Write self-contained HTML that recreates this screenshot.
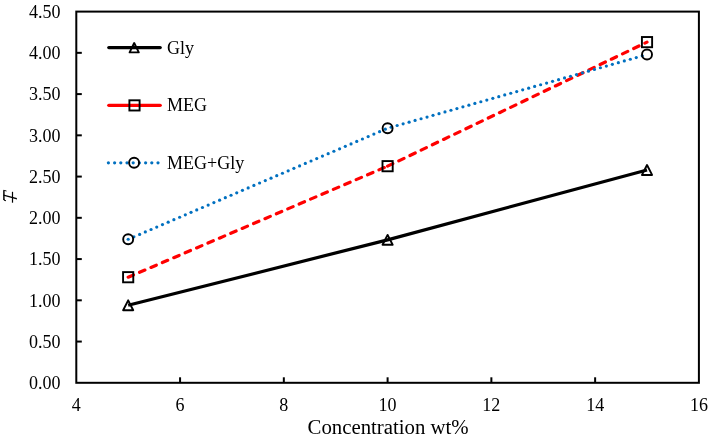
<!DOCTYPE html>
<html><head><meta charset="utf-8"><style>
html,body{margin:0;padding:0;background:#fff;}
body{width:710px;height:441px;overflow:hidden;}
svg{display:block;will-change:transform;}
.t{font-family:"Liberation Serif",serif;font-size:18px;fill:#000;}
.xt{font-family:"Liberation Serif",serif;font-size:20.8px;fill:#000;}
</style></head><body>
<svg width="710" height="441" viewBox="0 0 710 441">
<rect x="76.3" y="11.6" width="622.6" height="371.2" fill="none" stroke="#000" stroke-width="2"/>
<text x="60.6" y="389.10" text-anchor="end" class="t">0.00</text>
<line x1="76.3" y1="341.56" x2="81.8" y2="341.56" stroke="#000" stroke-width="2"/>
<text x="60.6" y="347.86" text-anchor="end" class="t">0.50</text>
<line x1="76.3" y1="300.31" x2="81.8" y2="300.31" stroke="#000" stroke-width="2"/>
<text x="60.6" y="306.61" text-anchor="end" class="t">1.00</text>
<line x1="76.3" y1="259.07" x2="81.8" y2="259.07" stroke="#000" stroke-width="2"/>
<text x="60.6" y="265.37" text-anchor="end" class="t">1.50</text>
<line x1="76.3" y1="217.82" x2="81.8" y2="217.82" stroke="#000" stroke-width="2"/>
<text x="60.6" y="224.12" text-anchor="end" class="t">2.00</text>
<line x1="76.3" y1="176.58" x2="81.8" y2="176.58" stroke="#000" stroke-width="2"/>
<text x="60.6" y="182.88" text-anchor="end" class="t">2.50</text>
<line x1="76.3" y1="135.33" x2="81.8" y2="135.33" stroke="#000" stroke-width="2"/>
<text x="60.6" y="141.63" text-anchor="end" class="t">3.00</text>
<line x1="76.3" y1="94.09" x2="81.8" y2="94.09" stroke="#000" stroke-width="2"/>
<text x="60.6" y="100.39" text-anchor="end" class="t">3.50</text>
<line x1="76.3" y1="52.84" x2="81.8" y2="52.84" stroke="#000" stroke-width="2"/>
<text x="60.6" y="59.14" text-anchor="end" class="t">4.00</text>
<text x="60.6" y="17.90" text-anchor="end" class="t">4.50</text>
<text x="76.30" y="410.5" text-anchor="middle" class="t">4</text>
<line x1="180.07" y1="382.8" x2="180.07" y2="377.3" stroke="#000" stroke-width="2"/>
<text x="180.07" y="410.5" text-anchor="middle" class="t">6</text>
<line x1="283.83" y1="382.8" x2="283.83" y2="377.3" stroke="#000" stroke-width="2"/>
<text x="283.83" y="410.5" text-anchor="middle" class="t">8</text>
<line x1="387.60" y1="382.8" x2="387.60" y2="377.3" stroke="#000" stroke-width="2"/>
<text x="387.60" y="410.5" text-anchor="middle" class="t">10</text>
<line x1="491.37" y1="382.8" x2="491.37" y2="377.3" stroke="#000" stroke-width="2"/>
<text x="491.37" y="410.5" text-anchor="middle" class="t">12</text>
<line x1="595.13" y1="382.8" x2="595.13" y2="377.3" stroke="#000" stroke-width="2"/>
<text x="595.13" y="410.5" text-anchor="middle" class="t">14</text>
<text x="698.90" y="410.5" text-anchor="middle" class="t">16</text>
<text x="388.10" y="434.1" text-anchor="middle" class="xt">Concentration wt%</text>
<polyline points="128.18,305.26 387.60,239.85 647.02,169.98" fill="none" stroke="#000" stroke-width="3.2" stroke-linejoin="round"/>
<line x1="128.18" y1="277.21" x2="387.60" y2="166.18" stroke="#FF0000" stroke-width="3.2" stroke-dasharray="5.8 6.6" stroke-linecap="round"/>
<line x1="387.60" y1="166.18" x2="647.02" y2="42.12" stroke="#FF0000" stroke-width="3.2" stroke-dasharray="5.8 6.6" stroke-linecap="round"/>
<g fill="#0070C0"><circle cx="128.18" cy="239.27" r="1.6"/><circle cx="133.90" cy="236.82" r="1.6"/><circle cx="139.61" cy="234.38" r="1.6"/><circle cx="145.32" cy="231.93" r="1.6"/><circle cx="151.04" cy="229.49" r="1.6"/><circle cx="156.75" cy="227.04" r="1.6"/><circle cx="162.47" cy="224.60" r="1.6"/><circle cx="168.18" cy="222.15" r="1.6"/><circle cx="173.89" cy="219.71" r="1.6"/><circle cx="179.61" cy="217.26" r="1.6"/><circle cx="185.32" cy="214.81" r="1.6"/><circle cx="191.03" cy="212.37" r="1.6"/><circle cx="196.75" cy="209.92" r="1.6"/><circle cx="202.46" cy="207.48" r="1.6"/><circle cx="208.17" cy="205.03" r="1.6"/><circle cx="213.89" cy="202.59" r="1.6"/><circle cx="219.60" cy="200.14" r="1.6"/><circle cx="225.32" cy="197.70" r="1.6"/><circle cx="231.03" cy="195.25" r="1.6"/><circle cx="236.74" cy="192.81" r="1.6"/><circle cx="242.46" cy="190.36" r="1.6"/><circle cx="248.17" cy="187.91" r="1.6"/><circle cx="253.88" cy="185.47" r="1.6"/><circle cx="259.60" cy="183.02" r="1.6"/><circle cx="265.31" cy="180.58" r="1.6"/><circle cx="271.03" cy="178.13" r="1.6"/><circle cx="276.74" cy="175.69" r="1.6"/><circle cx="282.45" cy="173.24" r="1.6"/><circle cx="288.17" cy="170.80" r="1.6"/><circle cx="293.88" cy="168.35" r="1.6"/><circle cx="299.59" cy="165.91" r="1.6"/><circle cx="305.31" cy="163.46" r="1.6"/><circle cx="311.02" cy="161.02" r="1.6"/><circle cx="316.73" cy="158.57" r="1.6"/><circle cx="322.45" cy="156.12" r="1.6"/><circle cx="328.16" cy="153.68" r="1.6"/><circle cx="333.88" cy="151.23" r="1.6"/><circle cx="339.59" cy="148.79" r="1.6"/><circle cx="345.30" cy="146.34" r="1.6"/><circle cx="351.02" cy="143.90" r="1.6"/><circle cx="356.73" cy="141.45" r="1.6"/><circle cx="362.44" cy="139.01" r="1.6"/><circle cx="368.16" cy="136.56" r="1.6"/><circle cx="373.87" cy="134.12" r="1.6"/><circle cx="379.58" cy="131.67" r="1.6"/><circle cx="385.30" cy="129.22" r="1.6"/><circle cx="391.17" cy="127.22" r="1.6"/><circle cx="397.15" cy="125.52" r="1.6"/><circle cx="403.13" cy="123.83" r="1.6"/><circle cx="409.10" cy="122.13" r="1.6"/><circle cx="415.08" cy="120.43" r="1.6"/><circle cx="421.06" cy="118.73" r="1.6"/><circle cx="427.04" cy="117.03" r="1.6"/><circle cx="433.02" cy="115.33" r="1.6"/><circle cx="439.00" cy="113.63" r="1.6"/><circle cx="444.97" cy="111.93" r="1.6"/><circle cx="450.95" cy="110.23" r="1.6"/><circle cx="456.93" cy="108.53" r="1.6"/><circle cx="462.91" cy="106.83" r="1.6"/><circle cx="468.89" cy="105.13" r="1.6"/><circle cx="474.86" cy="103.43" r="1.6"/><circle cx="480.84" cy="101.73" r="1.6"/><circle cx="486.82" cy="100.03" r="1.6"/><circle cx="492.80" cy="98.33" r="1.6"/><circle cx="498.78" cy="96.63" r="1.6"/><circle cx="504.75" cy="94.94" r="1.6"/><circle cx="510.73" cy="93.24" r="1.6"/><circle cx="516.71" cy="91.54" r="1.6"/><circle cx="522.69" cy="89.84" r="1.6"/><circle cx="528.67" cy="88.14" r="1.6"/><circle cx="534.65" cy="86.44" r="1.6"/><circle cx="540.62" cy="84.74" r="1.6"/><circle cx="546.60" cy="83.04" r="1.6"/><circle cx="552.58" cy="81.34" r="1.6"/><circle cx="558.56" cy="79.64" r="1.6"/><circle cx="564.54" cy="77.94" r="1.6"/><circle cx="570.51" cy="76.24" r="1.6"/><circle cx="576.49" cy="74.54" r="1.6"/><circle cx="582.47" cy="72.84" r="1.6"/><circle cx="588.45" cy="71.14" r="1.6"/><circle cx="594.43" cy="69.44" r="1.6"/><circle cx="600.41" cy="67.74" r="1.6"/><circle cx="606.38" cy="66.05" r="1.6"/><circle cx="612.36" cy="64.35" r="1.6"/><circle cx="618.34" cy="62.65" r="1.6"/><circle cx="624.32" cy="60.95" r="1.6"/><circle cx="630.30" cy="59.25" r="1.6"/><circle cx="636.27" cy="57.55" r="1.6"/><circle cx="642.25" cy="55.85" r="1.6"/></g>
<path d="M128.18,300.31 L133.23,310.21 L123.13,310.21 Z" fill="none" stroke="#000" stroke-width="1.9" stroke-linejoin="round"/>
<path d="M387.60,234.90 L392.65,244.80 L382.55,244.80 Z" fill="none" stroke="#000" stroke-width="1.9" stroke-linejoin="round"/>
<path d="M647.02,165.03 L652.07,174.93 L641.97,174.93 Z" fill="none" stroke="#000" stroke-width="1.9" stroke-linejoin="round"/>
<rect x="123.08" y="272.11" width="10.2" height="10.2" fill="none" stroke="#000" stroke-width="1.9"/>
<rect x="382.50" y="161.08" width="10.2" height="10.2" fill="none" stroke="#000" stroke-width="1.9"/>
<rect x="641.92" y="37.02" width="10.2" height="10.2" fill="none" stroke="#000" stroke-width="1.9"/>
<circle cx="128.18" cy="239.27" r="5.0" fill="none" stroke="#000" stroke-width="1.9"/>
<circle cx="387.60" cy="128.24" r="5.0" fill="none" stroke="#000" stroke-width="1.9"/>
<circle cx="647.02" cy="54.49" r="5.0" fill="none" stroke="#000" stroke-width="1.9"/>
<line x1="108.8" y1="47.6" x2="160.2" y2="47.6" stroke="#000" stroke-width="3.3" stroke-linecap="round"/>
<path d="M134.20,43.00 L138.80,52.40 L129.60,52.40 Z" fill="none" stroke="#000" stroke-width="1.9" stroke-linejoin="round"/>
<text x="167" y="54" class="t">Gly</text>
<line x1="108.8" y1="105.3" x2="160.2" y2="105.3" stroke="#FF0000" stroke-width="3.3" stroke-linecap="round"/>
<rect x="129.40" y="100.30" width="10.2" height="10.2" fill="none" stroke="#000" stroke-width="1.9"/>
<text x="167" y="111.2" class="t">MEG</text>
<g fill="#0070C0"><circle cx="108.40" cy="162.80" r="1.6"/><circle cx="114.60" cy="162.80" r="1.6"/><circle cx="120.80" cy="162.80" r="1.6"/><circle cx="127.00" cy="162.80" r="1.6"/><circle cx="133.20" cy="162.80" r="1.6"/><circle cx="139.40" cy="162.80" r="1.6"/><circle cx="145.60" cy="162.80" r="1.6"/><circle cx="151.80" cy="162.80" r="1.6"/><circle cx="158.00" cy="162.80" r="1.6"/></g>
<circle cx="134.10" cy="162.80" r="5.0" fill="none" stroke="#000" stroke-width="1.9"/>
<text x="167" y="168.6" class="t">MEG+Gly</text>
<g stroke="#000" fill="none"><path d="M3.9,190.5 L3.9,200.0" stroke-width="1.45"/><path d="M3.3,190.35 Q5,190.4 6.5,191.0" stroke-width="0.9"/><path d="M3.9,199.3 Q4.1,200.6 6.0,200.75" stroke-width="1.1"/><path d="M3.5,194.55 L16.9,198.0 L16.9,199.6 L3.5,195.75 Z" fill="#000" stroke="none"/><path d="M12.5,191.8 L12.5,202.7" stroke-width="1.2"/></g>
</svg>
</body></html>
